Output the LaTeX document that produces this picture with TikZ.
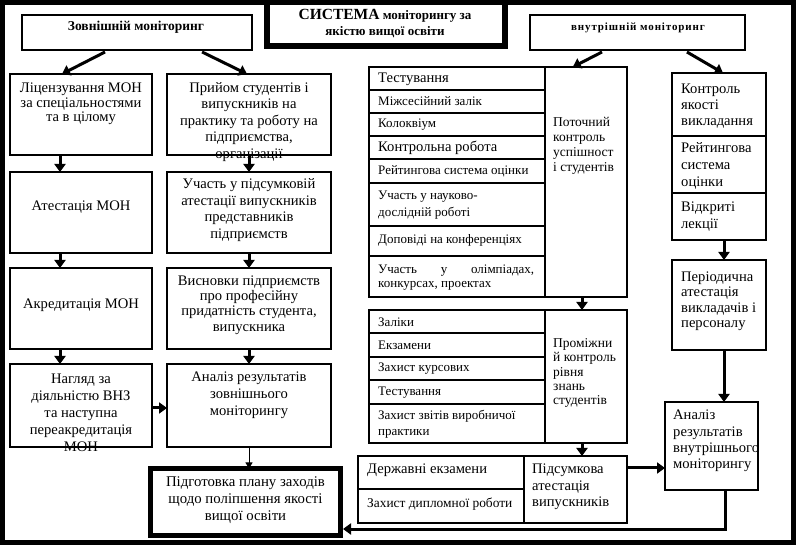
\documentclass[tikz,border=0pt]{standalone}
\usepackage{fontspec}
\setmainfont{Liberation Serif}
\usetikzlibrary{arrows.meta,calc}
\newcommand\bx[5]{\node[box, minimum width=#4pt, minimum height=#5pt] (#1) at (#2,#3) {};}
\newcommand\fs[2]{\fontsize{#1}{#2}\selectfont}
\begin{document}
\begin{tikzpicture}[x=1pt,y=-1pt,
  box/.style={draw, line width=1.2pt, anchor=north west, inner sep=0pt, outer sep=0pt},
  thickbox/.style={box, line width=5.5pt},
  txt/.style={inner sep=0pt, align=center, font=\fs{14.6}{16}},
  ltxt/.style={inner sep=0pt, align=left, anchor=west},
  small/.style={font=\fs{13}{14}},
  big/.style={font=\fs{14.6}{16}},
  arr/.style={line width=3pt, -{Triangle[length=8pt,width=11pt]}},
  thinarr/.style={line width=1pt, -{Triangle[length=6pt,width=7pt]}}]
\useasboundingbox (0,0) rectangle (796,545);
\draw[line width=5pt] (2.5,2.5) rectangle (793,542);

% headers
\bx{ext}{22}{15}{230}{35}
\node[txt, font=\bfseries\fs{13.5}{14}] (extt) at (136,27) {Зовнішній моніторинг};
\bx{int}{530}{15}{215}{35}
\node[txt, font=\bfseries\fs{11}{13}\addfontfeature{LetterSpace=8}] (intt) at (638,28) {внутрішній моніторинг};
\node[thickbox, line width=6pt, minimum width=237.5pt, minimum height=44pt] (title) at (267,2.5) {};
\node[txt, font=\bfseries\fs{13}{16}] (titlet) at (385,24) {{\fs{15.5}{16}СИСТЕМА} моніторингу за\\якістю вищої освіти};

% external column boxes
\bx{lic}{10}{74}{142}{81}
\bx{pr}{167}{74}{164}{81}
\bx{att}{10}{172}{142}{81}
\bx{uch}{167}{172}{164}{81}
\bx{akr}{10}{268}{142}{81}
\bx{vys}{167}{268}{164}{81}
\bx{nag}{10}{364}{142}{83}
\bx{anz}{167}{364}{164}{83}
\node[thickbox, minimum width=190pt, minimum height=67pt] (pid) at (150.5,468.5) {};

\node[txt, font=\fs{14.6}{14.5}] (lict) at (81,104) {Ліцензування МОН\\за спеціальностями\\та в цілому};
\node[txt, font=\fs{14.6}{16.5}] (prt) at (249,122) {Прийом студентів і\\випускників на\\практику та роботу на\\підприємства,\\організації};
\node[txt] (attt) at (81,207) {Атестація МОН};
\node[txt, font=\fs{14.6}{16.5}] (ucht) at (249,210) {Участь у підсумковій\\атестації випускників\\представників\\підприємств};
\node[txt] (akrt) at (81,305) {Акредитація МОН};
\node[txt, font=\fs{14.6}{15.4}] (vyst) at (249,305) {Висновки підприємств\\про професійну\\придатність студента,\\випускника};
\node[txt, font=\fs{14.6}{17}] (nagt) at (81,412.5) {Нагляд за\\діяльністю ВНЗ\\та наступна\\переакредитація\\МОН};
\node[txt, font=\fs{14.6}{17}] (anzt) at (249,395) {Аналіз результатів\\зовнішнього\\моніторингу};
\node[txt, font=\fs{14.8}{17}] (pidt) at (245.5,500) {Підготовка плану заходів\\щодо поліпшення якості\\вищої освіти};

% internal: current control table
\bx{pot}{369}{67}{258}{230}
\draw[line width=1.2pt] (545,67) -- (545,297);
\foreach \yy in {90,113,136,159,183,226,256} \draw[line width=1.2pt] (369,\yy) -- (545,\yy);
\node[ltxt, big] (p1) at (378,79) {Тестування};
\node[ltxt, small] (p2) at (378,101.5) {Міжсесійний залік};
\node[ltxt, small] (p3) at (378,124.5) {Колоквіум};
\node[ltxt, big] (p4) at (378,147.5) {Контрольна робота};
\node[ltxt, small] (p5) at (378,171) {Рейтингова система оцінки};
\node[ltxt, font=\fs{13}{16.5}] (p6) at (378,205) {Участь у науково-\\дослідній роботі};
\node[ltxt, small] (p7) at (378,240) {Доповіді на конференціях};
\node[ltxt, font=\fs{13}{14}] (p8) at (378,278) {\makebox[156pt][s]{Участь\hfill у\hfill олімпіадах,}\\конкурсах, проектах};
\node[ltxt, font=\fs{13.5}{15}] (potr) at (553,146) {Поточний\\контроль\\успішност\\і студентів};

% intermediate control table
\bx{prm}{369}{310}{258}{133}
\draw[line width=1.2pt] (545,310) -- (545,443);
\foreach \yy in {333,357,380,404} \draw[line width=1.2pt] (369,\yy) -- (545,\yy);
\node[ltxt, small] (m1) at (378,322) {Заліки};
\node[ltxt, small] (m2) at (378,345.5) {Екзамени};
\node[ltxt, small] (m3) at (378,369) {Захист курсових};
\node[ltxt, small] (m4) at (378,392.5) {Тестування};
\node[ltxt, font=\fs{13}{16.5}] (m5) at (378,424) {Захист звітів виробничої\\практики};
\node[ltxt, font=\fs{13.5}{14.3}] (prmr) at (553,373) {Проміжни\\й контроль\\рівня\\знань\\студентів};

% final attestation table
\bx{pds}{358}{456}{269}{67}
\draw[line width=1.2pt] (524,456) -- (524,523);
\draw[line width=1.2pt] (358,489) -- (524,489);
\node[ltxt, big] (d1) at (367,470) {Державні екзамени};
\node[ltxt, font=\fs{13.4}{14}] (d2) at (367,504) {Захист дипломної роботи};
\node[ltxt, font=\fs{14.6}{16.7}] (pdsr) at (532,487) {Підсумкова\\атестація\\випускників};

% teaching quality
\bx{kon}{672}{73}{94}{167}
\draw[line width=1.2pt] (672,136) -- (766,136);
\draw[line width=1.2pt] (672,193) -- (766,193);
\node[ltxt, font=\fs{14.6}{16}] (k1) at (681,106) {Контроль\\якості\\викладання};
\node[ltxt, font=\fs{14.6}{17}] (k2) at (681,166) {Рейтингова\\система\\оцінки};
\node[ltxt, font=\fs{14.6}{16.7}] (k3) at (681,216.5) {Відкриті\\лекції};
\bx{per}{672}{260}{94}{90}
\node[ltxt, font=\fs{14.6}{15.5}] (pert) at (681,301) {Періодична\\атестація\\викладачів і\\персоналу};
\bx{ani}{665}{402}{93}{88}
\node[ltxt, font=\fs{14.6}{16.3}] (anit) at (673,441) {Аналіз\\результатів\\внутрішнього\\моніторингу};

% arrows
\draw[arr] ($(ext.south west)!0.361!(ext.south east)+(0,2)$) -- ($(lic.north west)!0.366!(lic.north east)$);
\draw[arr] ($(ext.south west)!0.783!(ext.south east)+(0,2)$) -- ($(pr.north west)!0.488!(pr.north east)$);
\draw[arr] ($(int.south west)!0.335!(int.south east)+(0,2)$) -- ($(pot.north west)!0.79!(pot.north east)$);
\draw[arr] ($(int.south west)!0.73!(int.south east)+(0,2)$) -- ($(kon.north west)!0.543!(kon.north east)$);

\draw[arr] ([xshift=-21pt]lic.south) -- ([xshift=-21pt]att.north);
\draw[arr] ([xshift=-21pt]att.south) -- ([xshift=-21pt]akr.north);
\draw[arr] ([xshift=-21pt]akr.south) -- ([xshift=-21pt]nag.north);
\draw[arr] (pr.south) -- (uch.north);
\draw[arr] (uch.south) -- (vys.north);
\draw[arr] (vys.south) -- (anz.north);
\draw[arr] ([yshift=-2.5pt]nag.east) -- ([yshift=-2.5pt]anz.west);
\draw[thinarr] (anz.south) -- (anz.south |- pid.north);

\draw[arr] ([xshift=84pt]pot.south) -- ([xshift=84pt]prm.north);
\draw[arr] ([xshift=84pt]prm.south) -- ([xshift=84pt]prm.south |- pds.north);
\draw[arr] ([xshift=5pt]kon.south) -- ([xshift=5pt]per.north);
\draw[arr] ([xshift=5pt]per.south) -- ([xshift=5pt]per.south |- ani.north);
\draw[arr] ([yshift=21.5pt]pds.east) -- ([yshift=21.5pt]pds.east -| ani.west);
\draw[arr] ([xshift=13.5pt]ani.south) |- ([shift={(2.5pt,6.5pt)}]pid.south east);
\end{tikzpicture}
\end{document}
